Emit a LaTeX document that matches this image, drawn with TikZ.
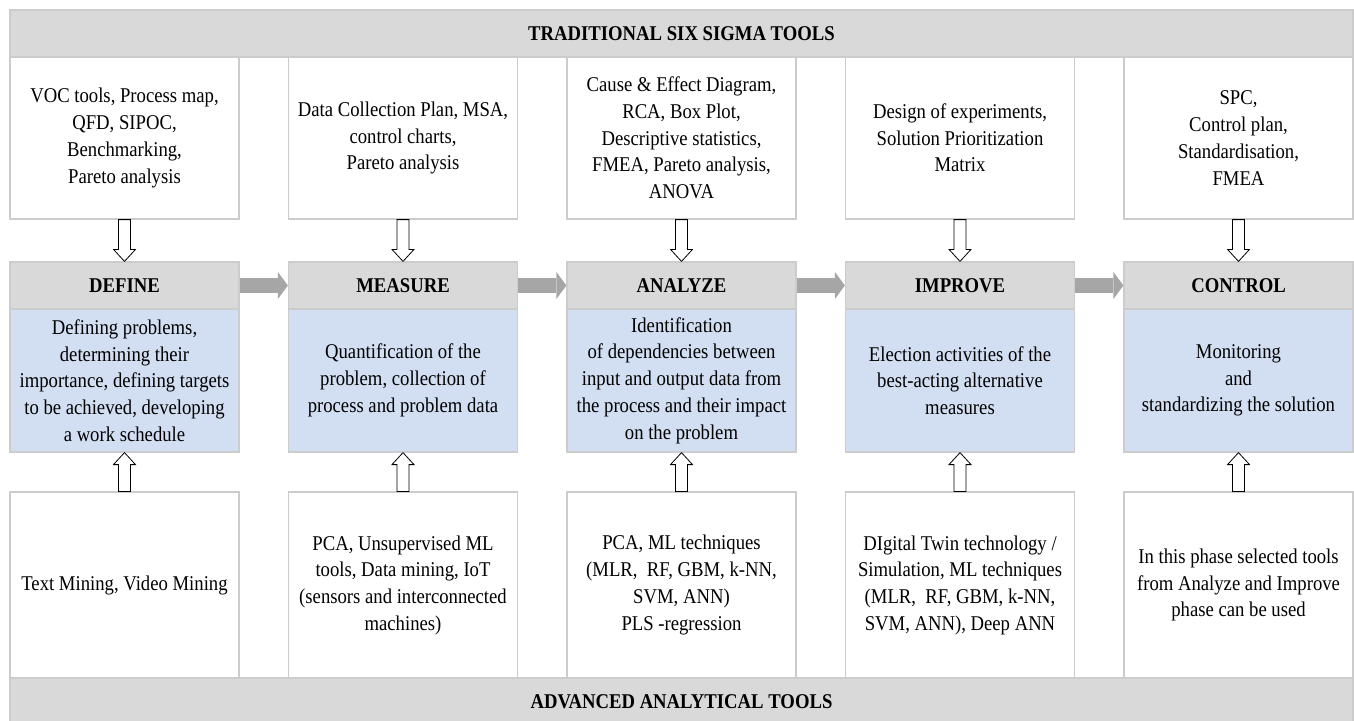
\documentclass[tikz,border=0pt]{standalone}
\usepackage{fontspec}
\setmainfont{Liberation Serif}[FakeStretch=0.89]
\usetikzlibrary{arrows.meta, calc}
\definecolor{headgray}{RGB}{217,217,217}
\definecolor{linegray}{RGB}{204,204,204}
\definecolor{phaseblue}{RGB}{210,222,241}
\definecolor{flowgray}{RGB}{166,166,166}

\tikzset{
  every node/.style={font=\fontsize{21}{26.7}\selectfont, align=center, inner sep=2pt},
  banner/.style={draw=linegray, fill=headgray, line width=1.2pt, minimum width=1343pt, minimum height=47pt, font=\fontsize{21}{26.7}\selectfont\bfseries},
  toolbox/.style={draw=linegray, fill=white, line width=1.2pt, minimum width=229pt},
  phase/.style={draw=linegray, fill=headgray, line width=1.2pt, minimum width=229pt, minimum height=47pt, font=\fontsize{21}{26.7}\selectfont\bfseries},
  phasetext/.style={draw=linegray, fill=phaseblue, line width=1.2pt, minimum width=229pt, minimum height=143pt},
  flowarrow/.style={flowgray, line width=15pt, -{Triangle[width=27pt, length=10pt, line width=0pt]}},
  hollowarrow/.style={draw=black, fill=white, line width=0.8pt, to path={
    ($(\tikztostart)!6pt!90:(\tikztotarget)$)
    -- ($(\tikztotarget)!12pt!(\tikztostart)!6pt!90:(\tikztotarget)$)
    -- ($(\tikztotarget)!12pt!(\tikztostart)!11pt!90:(\tikztotarget)$)
    -- (\tikztotarget)
    -- ($(\tikztotarget)!12pt!(\tikztostart)!11pt!-90:(\tikztotarget)$)
    -- ($(\tikztotarget)!12pt!(\tikztostart)!6pt!-90:(\tikztotarget)$)
    -- ($(\tikztostart)!6pt!-90:(\tikztotarget)$) -- cycle}}
}

\begin{document}
\begin{tikzpicture}[x=1pt, y=-1pt]
    \useasboundingbox (0,0) rectangle (1354,720);

    % Banners
    \node[banner] (trad) at (681.5,33.5) {TRADITIONAL SIX SIGMA TOOLS};
    \node[banner] (adv) at (681.5,701.5) {ADVANCED ANALYTICAL TOOLS};

    % Traditional tools
    \node[toolbox, minimum height=162pt] (tradDef) at (124.5,138) {VOC tools, Process map,\\QFD, SIPOC,\\Benchmarking,\\Pareto analysis};
    \node[toolbox, minimum height=162pt] (tradMea) at (403,138) {Data Collection Plan, MSA,\\control charts,\\Pareto analysis};
    \node[toolbox, minimum height=162pt] (tradAna) at (681.5,138) {Cause \& Effect Diagram,\\RCA, Box Plot,\\Descriptive statistics,\\FMEA, Pareto analysis,\\ANOVA};
    \node[toolbox, minimum height=162pt] (tradImp) at (960,138) {Design of experiments,\\Solution Prioritization\\Matrix};
    \node[toolbox, minimum height=162pt] (tradCon) at (1238.5,138) {SPC,\\Control plan,\\Standardisation,\\FMEA};

    % DMAIC phases
    \node[phase] (define) at (124.5,285.5) {DEFINE};
    \node[phase] (measure) at (403,285.5) {MEASURE};
    \node[phase] (analyze) at (681.5,285.5) {ANALYZE};
    \node[phase] (improve) at (960,285.5) {IMPROVE};
    \node[phase] (control) at (1238.5,285.5) {CONTROL};

    \node[phasetext] (defineTxt) at (124.5,380.5) {Defining problems,\\determining their\\importance, defining targets\\to be achieved, developing\\a work schedule};
    \node[phasetext] (measureTxt) at (403,380.5) {Quantification of the\\problem, collection of\\process and problem data};
    \node[phasetext] (analyzeTxt) at (681.5,380.5) {Identification\\of dependencies between\\input and output data from\\the process and their impact\\on the problem};
    \node[phasetext] (improveTxt) at (960,380.5) {Election activities of the\\best-acting alternative\\measures};
    \node[phasetext] (controlTxt) at (1238.5,380.5) {Monitoring\\and\\standardizing the solution};

    % Advanced tools
    \node[toolbox, minimum height=186pt] (advDef) at (124.5,585) {Text Mining, Video Mining};
    \node[toolbox, minimum height=186pt] (advMea) at (403,585) {PCA, Unsupervised ML\\tools, Data mining, IoT\\(sensors and interconnected\\machines)};
    \node[toolbox, minimum height=186pt] (advAna) at (681.5,585) {PCA, ML techniques\\(MLR,\ \ RF, GBM, k-NN,\\SVM, ANN)\\PLS -regression};
    \node[toolbox, minimum height=186pt] (advImp) at (960,585) {DIgital Twin technology /\\Simulation, ML techniques\\(MLR,\ \ RF, GBM, k-NN,\\SVM, ANN), Deep ANN};
    \node[toolbox, minimum height=186pt] (advCon) at (1238.5,585) {In this phase selected tools\\from Analyze and Improve\\phase can be used};

    % Arrows
    \foreach \t/\p in {tradDef/define, tradMea/measure, tradAna/analyze, tradImp/improve, tradCon/control}
        \draw[hollowarrow] (\t.south) to (\p.north);
    \foreach \a/\p in {advDef/defineTxt, advMea/measureTxt, advAna/analyzeTxt, advImp/improveTxt, advCon/controlTxt}
        \draw[hollowarrow] (\a.north) to (\p.south);
    \foreach \a/\b in {define/measure, measure/analyze, analyze/improve, improve/control}
        \draw[flowarrow] (\a.east) -- (\b.west);
\end{tikzpicture}
\end{document}
